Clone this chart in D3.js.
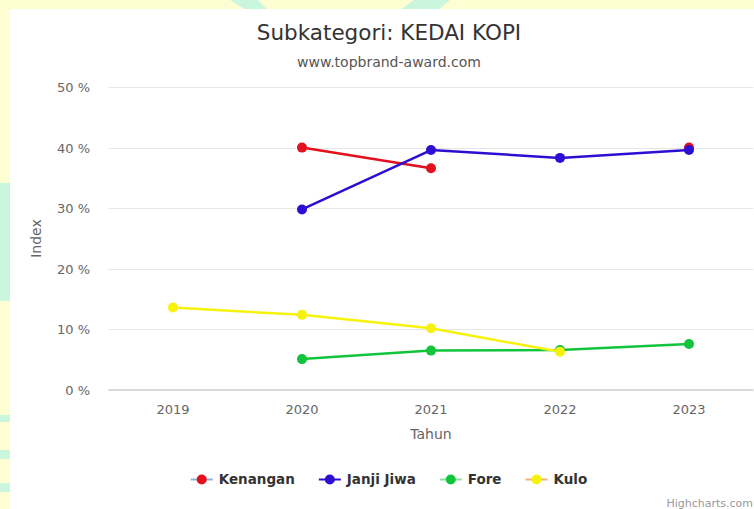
<!DOCTYPE html>
<html>
<head>
<meta charset="utf-8">
<script src="https://cdn.jsdelivr.net/npm/d3@7"></script>
<style>
  html, body { margin: 0; padding: 0; background: #fffed2; }
  svg { display: block; }
  text { font-family: "DejaVu Sans", sans-serif; }
</style>
</head>
<body>
<script>
// ---- data ----
const years = ["2019", "2020", "2021", "2022", "2023"];
const kenangan = [null, 40.0, 36.6, null, 40.0];
const janjiJiwa = [null, 29.8, 39.6, 38.3, 39.6];
const fore = [null, 5.1, 6.5, 6.6, 7.6];
const kulo = [13.6, 12.4, 10.2, 6.3, null];
const seriesNames = ["Kenangan", "Janji Jiwa", "Fore", "Kulo"];
const seriesColors = ["#e3101d", "#2c0fd2", "#10c43c", "#f6f20c"];
const legendLineColors = ["#8fb3d6", "#2c0fd2", "#8fe0a4", "#f3b46a"];
const yTicks = [0, 10, 20, 30, 40, 50];

const W = 754, H = 509;
const svg = d3.select("body").append("svg").attr("width", W).attr("height", H);

// background watermark pieces in margins
const mint = "#c9f6dd";
svg.append("rect").attr("x", 0).attr("y", 0).attr("width", W).attr("height", H).attr("fill", "#fffed2");
svg.append("polygon").attr("points", "230,0 258,0 268,10 246,10").attr("fill", mint);
svg.append("polygon").attr("points", "450,0 414,0 400,10 438,10").attr("fill", mint);
svg.append("rect").attr("x", 0).attr("y", 183).attr("width", 10).attr("height", 118).attr("fill", mint);
svg.append("rect").attr("x", 0).attr("y", 415).attr("width", 10).attr("height", 7).attr("fill", mint);
svg.append("rect").attr("x", 0).attr("y", 450).attr("width", 10).attr("height", 9).attr("fill", mint);
svg.append("rect").attr("x", 0).attr("y", 483).attr("width", 10).attr("height", 9).attr("fill", mint);

// white chart panel
svg.append("rect").attr("x", 10).attr("y", 9).attr("width", W - 10).attr("height", 486).attr("fill", "#fff");
svg.append("rect").attr("x", 10).attr("y", 495).attr("width", W - 10).attr("height", 14).attr("fill", "#fff");

const plotLeft = 108.5, plotRight = 753.5, plotTop = 87, plotBottom = 390;
const cx = 389;

const x = d3.scaleBand().domain(years).range([plotLeft, plotRight]);
const y = d3.scaleLinear().domain([0, 50]).range([plotBottom, plotTop]);
const xc = d => x(d) + x.bandwidth() / 2;

// grid
svg.append("g").selectAll("line").data(yTicks.filter(t => t > 0)).join("line")
  .attr("x1", plotLeft).attr("x2", plotRight)
  .attr("y1", d => Math.round(y(d)) + 0.5).attr("y2", d => Math.round(y(d)) + 0.5)
  .attr("stroke", "#e6e6e6").attr("stroke-width", 1);
// axis line
svg.append("line").attr("x1", plotLeft).attr("x2", plotRight)
  .attr("y1", y(0)).attr("y2", y(0)).attr("stroke", "#d9d9d9").attr("stroke-width", 2);

// y labels
const yAxis = d3.axisLeft(y).tickValues(yTicks).tickSize(0).tickPadding(0).tickFormat(d => d + " %");
const gy = svg.append("g").attr("transform", `translate(90,0)`).call(yAxis);
gy.select(".domain").remove();
gy.selectAll("text").attr("font-size", 13).attr("fill", "#666").attr("font-family", "DejaVu Sans").attr("dy", "0.35em");

// x labels
const xAxis = d3.axisBottom(x).tickSize(0).tickPadding(0);
const gx = svg.append("g").attr("transform", `translate(0,404)`).call(xAxis);
gx.select(".domain").remove();
gx.selectAll("text").attr("font-size", 13).attr("fill", "#666").attr("font-family", "DejaVu Sans").attr("dy", "0.35em").attr("y", 5);

// axis titles
svg.append("text").attr("x", (plotLeft + plotRight) / 2).attr("y", 439).attr("text-anchor", "middle")
  .attr("font-size", 14).attr("fill", "#666").text("Tahun");
svg.append("text").attr("transform", `translate(41,${(plotTop + plotBottom) / 2}) rotate(-90)`)
  .attr("text-anchor", "middle").attr("font-size", 14).attr("fill", "#666").text("Index");

// title
svg.append("text").attr("x", cx).attr("y", 40).attr("text-anchor", "middle")
  .attr("font-size", 21.5).attr("fill", "#333").text("Subkategori: KEDAI KOPI");
svg.append("text").attr("x", cx).attr("y", 67).attr("text-anchor", "middle")
  .attr("font-size", 14).attr("fill", "#555").text("www.topbrand-award.com");

// series
const allSeries = [kenangan, janjiJiwa, fore, kulo];
const line = d3.line().defined(d => d.v !== null).x(d => xc(d.year)).y(d => y(d.v));
allSeries.forEach((vals, i) => {
  const pts = years.map((yr, j) => ({ year: yr, v: vals[j] }));
  const g = svg.append("g");
  g.append("path").datum(pts).attr("d", line).attr("fill", "none")
    .attr("stroke", seriesColors[i]).attr("stroke-width", 2.5).attr("stroke-linejoin", "round");
  g.selectAll("circle").data(pts.filter(p => p.v !== null)).join("circle")
    .attr("cx", p => xc(p.year)).attr("cy", p => y(p.v)).attr("r", 5)
    .attr("fill", seriesColors[i]);
});

// legend
const lg = svg.append("g");
const items = lg.selectAll("g").data(seriesNames).join("g");
items.append("text").attr("x", 0).attr("y", 484).attr("font-size", 13.5).attr("font-weight", "bold")
  .attr("fill", "#333").text(d => d);
let widths = [];
items.select("text").each(function () { widths.push(this.getComputedTextLength()); });
const symW = 22, gapSym = 6, itemGap = 24;
const total = d3.sum(widths) + seriesNames.length * (symW + gapSym) + (seriesNames.length - 1) * itemGap;
let xpos = cx - total / 2;
items.each(function (d, i) {
  const it = d3.select(this);
  const s = xpos;
  it.insert("line", "text").attr("x1", s).attr("x2", s + symW).attr("y1", 479.5).attr("y2", 479.5)
    .attr("stroke", legendLineColors[i]).attr("stroke-width", 2);
  it.insert("circle", "text").attr("cx", s + symW / 2).attr("cy", 479.5).attr("r", 5).attr("fill", seriesColors[i]);
  it.select("text").attr("x", s + symW + gapSym);
  xpos += symW + gapSym + widths[i] + itemGap;
});

// credits
svg.append("text").attr("x", 753).attr("y", 507).attr("text-anchor", "end")
  .attr("font-size", 11).attr("fill", "#999").text("Highcharts.com");
</script>
</body>
</html>
